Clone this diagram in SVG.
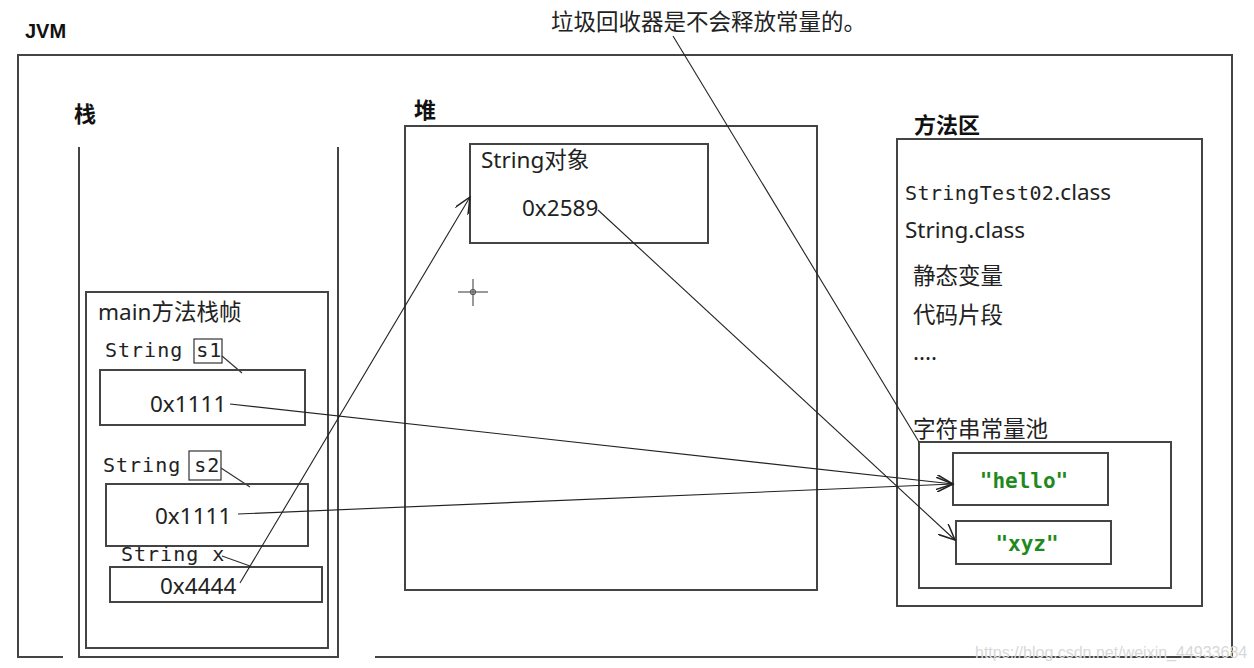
<svg xmlns="http://www.w3.org/2000/svg" width="1254" height="668" viewBox="0 0 1254 668">
<defs>
<style>
.ln{fill:none;stroke:#444;stroke-width:2}
.thin{fill:none;stroke:#333;stroke-width:1.2}
.conn{fill:none;stroke:#222;stroke-width:1.1}
.t{font-family:"Noto Sans","Noto Sans CJK SC",sans-serif;font-size:22.5px;fill:#222}
.cj{font-family:"Noto Sans CJK SC",sans-serif;font-size:22.5px;fill:#222}
.bold{font-family:"Noto Sans CJK SC",sans-serif;font-size:22px;font-weight:bold;fill:#111}
.mono{font-family:"DejaVu Sans Mono","Liberation Mono",monospace;font-size:20px;letter-spacing:1px;fill:#222}
.str{font-family:"DejaVu Sans Mono","Liberation Mono",monospace;font-size:21px;font-weight:bold;fill:#1e8a1e}
</style>
<marker id="arr" viewBox="0 0 12 10" refX="11" refY="5" markerWidth="18" markerHeight="15" orient="auto" markerUnits="userSpaceOnUse">
<path d="M0,0 L11,5 L0,10" fill="none" stroke="#222" stroke-width="1"/>
</marker>
</defs>
<rect width="1254" height="668" fill="#fff"/>
<g id="jvm">
<text x="25" y="38" style="font-family:'Liberation Sans',sans-serif;font-size:20px;font-weight:bold;fill:#111">JVM</text>
<polyline class="ln" points="63,657 18,657 18,55 1232,55 1232,657 375,657"/>
</g>
<g id="note">
<text class="cj" x="551" y="30">垃圾回收器是不会释放常量的。</text>
</g>
<g id="stack">
<text class="bold" x="74" y="122">栈</text>
<polyline class="ln" points="79,147 79,657 338,657 338,147"/>
</g>
<g id="main-frame">
<rect class="ln" x="86" y="292" width="242" height="356"/>
<text class="t" x="98" y="320">main<tspan class="cj">方法栈帧</tspan></text>
</g>
<g id="var-s1">
<text class="mono" x="105" y="357">String s1</text>
<rect class="thin" x="194" y="339" width="28" height="24"/>
<line class="thin" x1="222" y1="356" x2="242" y2="373"/>
<rect class="ln" x="100" y="370" width="205" height="55"/>
<text class="t" x="150" y="412">0x1111</text>
</g>
<g id="var-s2">
<text class="mono" x="103" y="472">String s2</text>
<rect class="thin" x="189" y="451" width="32" height="29"/>
<line class="thin" x1="221" y1="468" x2="250" y2="487"/>
<rect class="ln" x="106" y="484" width="202" height="62"/>
<text class="t" x="155" y="524">0x1111</text>
</g>
<g id="var-x">
<text class="mono" x="121" y="561">String x</text>
<line class="thin" x1="222" y1="556" x2="250" y2="566"/>
<rect class="ln" x="110" y="567" width="212" height="35"/>
<text class="t" x="160" y="594">0x4444</text>
</g>
<g id="heap">
<text class="bold" x="414" y="118">堆</text>
<rect class="ln" x="405" y="126" width="412" height="464"/>
<g stroke="#555" stroke-width="1.2" fill="none">
<line x1="458" y1="292" x2="488" y2="292"/>
<line x1="473" y1="279" x2="473" y2="306"/>
<circle cx="473" cy="292" r="2.5"/>
</g>
</g>
<g id="string-object">
<rect class="ln" x="470" y="144" width="238" height="99"/>
<text class="t" x="481" y="168">String<tspan class="cj">对象</tspan></text>
<text class="t" x="522" y="216">0x2589</text>
</g>
<g id="method-area">
<text class="bold" x="914" y="133">方法区</text>
<rect class="ln" x="897" y="139" width="305" height="467"/>
<text class="mono" x="905" y="200" style="letter-spacing:0.4px">StringTest02<tspan class="t" style="letter-spacing:0">.class</tspan></text>
<text class="t" x="905" y="238">String.class</text>
<text class="cj" x="913" y="284">静态变量</text>
<text class="cj" x="913" y="323">代码片段</text>
<text class="t" x="913" y="360">....</text>
</g>
<g id="string-pool">
<text class="cj" x="913" y="437">字符串常量池</text>
<rect class="ln" x="919" y="442" width="252" height="146"/>
</g>
<g id="hello">
<rect class="ln" x="953" y="453" width="155" height="52"/>
<text class="str" x="1024" y="488" text-anchor="middle">"hello"</text>
</g>
<g id="xyz">
<rect class="ln" x="956" y="521" width="155" height="43"/>
<text class="str" x="1027" y="551" text-anchor="middle">"xyz"</text>
</g>
<g id="connectors">
<line class="conn" x1="230" y1="404" x2="953" y2="484" marker-end="url(#arr)"/>
<line class="conn" x1="238" y1="514" x2="953" y2="484" marker-end="url(#arr)"/>
<line class="conn" x1="240" y1="583" x2="470" y2="197" marker-end="url(#arr)"/>
<line class="conn" x1="598" y1="210" x2="955" y2="540" marker-end="url(#arr)"/>
<line class="conn" x1="673" y1="36" x2="919" y2="442"/>
</g>
<text x="975" y="658" style="font-family:'Liberation Sans',sans-serif;font-size:16px;fill:#d8d8d8">https://blog.csdn.net/weixin_44933684</text>
</svg>
